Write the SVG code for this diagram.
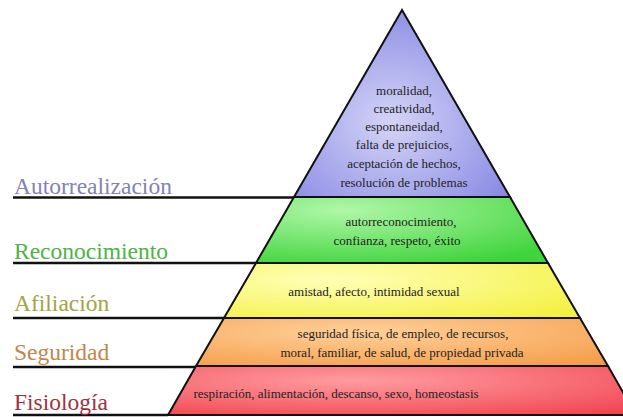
<svg xmlns="http://www.w3.org/2000/svg" width="623" height="417" viewBox="0 0 623 417" font-family="Times New Roman, Liberation Serif, serif">
<defs>
<radialGradient id="gP" cx="0.45" cy="0.6" r="0.7"><stop offset="0" stop-color="#d4d4f6"/><stop offset="1" stop-color="#8484e4"/></radialGradient>
<radialGradient id="gG" cx="0.3" cy="0.2" r="0.9"><stop offset="0" stop-color="#b0f7a8"/><stop offset="1" stop-color="#40d43c"/></radialGradient>
<radialGradient id="gY" cx="0.3" cy="0.3" r="0.9"><stop offset="0" stop-color="#ffffb8"/><stop offset="1" stop-color="#f4f040"/></radialGradient>
<radialGradient id="gO" cx="0.4" cy="0.3" r="0.9"><stop offset="0" stop-color="#ffd09a"/><stop offset="1" stop-color="#f49a44"/></radialGradient>
<radialGradient id="gR" cx="0.4" cy="0.3" r="0.9"><stop offset="0" stop-color="#ff9ca0"/><stop offset="1" stop-color="#f0404c"/></radialGradient>
</defs>
<rect width="623" height="417" fill="#fff"/>
<g id="autorrealizacion">
<polygon stroke="#111" stroke-width="2" points="402,10 294,197 510,197" fill="url(#gP)"/>
<line stroke="#111" stroke-width="2.5" x1="13" y1="197.5" x2="294" y2="197.5"/>
<text font-family="Times New Roman" font-size="23.5" x="14" y="194" fill="#8482b4">Autorrealización</text>
<text font-family="Times New Roman" font-size="13" fill="#222" text-anchor="middle" x="404" y="95">moralidad,</text>
<text font-family="Times New Roman" font-size="13" fill="#222" text-anchor="middle" x="404" y="113">creatividad,</text>
<text font-family="Times New Roman" font-size="13" fill="#222" text-anchor="middle" x="404" y="131">espontaneidad,</text>
<text font-family="Times New Roman" font-size="13" fill="#222" text-anchor="middle" x="404" y="149">falta de prejuicios,</text>
<text font-family="Times New Roman" font-size="13" fill="#222" text-anchor="middle" x="404" y="168">aceptación de hechos,</text>
<text font-family="Times New Roman" font-size="13" fill="#222" text-anchor="middle" x="404" y="187">resolución de problemas</text>
</g>
<g id="reconocimiento">
<polygon stroke="#111" stroke-width="2" points="294,197 510,197 548,263 256,263" fill="url(#gG)"/>
<line stroke="#111" stroke-width="2.5" x1="13" y1="263" x2="256" y2="263"/>
<text font-family="Times New Roman" font-size="23.5" x="14" y="259" fill="#4cb444">Reconocimiento</text>
<text font-family="Times New Roman" font-size="13" fill="#222" text-anchor="middle" x="401" y="226">autorreconocimiento,</text>
<text font-family="Times New Roman" font-size="13" fill="#222" text-anchor="middle" x="397" y="245">confianza, respeto, éxito</text>
</g>
<g id="afiliacion">
<polygon stroke="#111" stroke-width="2" points="256,263 548,263 580,318 224,318" fill="url(#gY)"/>
<line stroke="#111" stroke-width="2.5" x1="13" y1="318" x2="224" y2="318"/>
<text font-family="Times New Roman" font-size="23.5" x="14" y="311" fill="#a4a444">Afiliación</text>
<text font-family="Times New Roman" font-size="13" fill="#222" text-anchor="middle" x="374" y="296">amistad, afecto, intimidad sexual</text>
</g>
<g id="seguridad">
<polygon stroke="#111" stroke-width="2" points="224,318 580,318 608,366 196,366" fill="url(#gO)"/>
<line stroke="#111" stroke-width="2.5" x1="13" y1="367" x2="196" y2="367"/>
<text font-family="Times New Roman" font-size="23.5" x="14" y="360" fill="#c4844c">Seguridad</text>
<text font-family="Times New Roman" font-size="13" fill="#222" text-anchor="middle" x="403" y="338">seguridad física, de empleo, de recursos,</text>
<text font-family="Times New Roman" font-size="13" fill="#222" text-anchor="middle" x="402" y="357">moral, familiar, de salud, de propiedad privada</text>
</g>
<g id="fisiologia">
<polygon stroke="#111" stroke-width="2" points="196,366 608,366 636,415 168,415" fill="url(#gR)"/>
<line stroke="#111" stroke-width="2.5" x1="13" y1="415" x2="168" y2="415"/>
<text font-family="Times New Roman" font-size="23.5" x="14" y="410" fill="#a43040">Fisiología</text>
<text font-family="Times New Roman" font-size="13" fill="#222" text-anchor="middle" x="336" y="398">respiración, alimentación, descanso, sexo, homeostasis</text>
</g>
</svg>
